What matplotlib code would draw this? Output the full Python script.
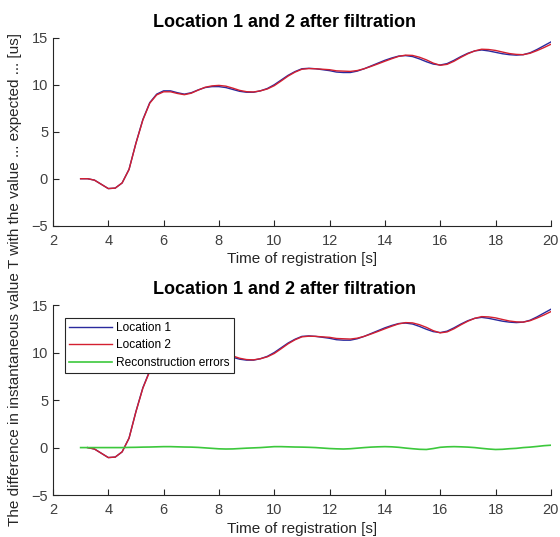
import numpy as np
import matplotlib
matplotlib.use("Agg")
import matplotlib.pyplot as plt

plt.rcParams['font.family'] = ['Liberation Sans', 'DejaVu Sans']

# time of registration [s], sampled every 0.25 s
t = np.arange(3.0, 20.001, 0.25)

loc1 = [0.0, 0.0, -0.15, -0.6, -1.05, -1.0, -0.45, 1.0, 3.8, 6.3, 8.1, 9.0,
        9.35, 9.35, 9.15, 9.0, 9.15, 9.45, 9.7, 9.8, 9.8, 9.7, 9.5, 9.3,
        9.2, 9.2, 9.35, 9.6, 10.0, 10.5, 11.0, 11.4, 11.7, 11.75, 11.7, 11.6,
        11.5, 11.35, 11.3, 11.3, 11.45, 11.7, 12.0, 12.3, 12.6, 12.85, 13.05, 13.1,
        13.0, 12.75, 12.45, 12.2, 12.1, 12.25, 12.6, 13.0, 13.35, 13.6, 13.7, 13.6,
        13.45, 13.3, 13.2, 13.15, 13.2, 13.4, 13.75, 14.15, 14.55]

# reconstruction errors (location 1 - location 2)
err = [0.0, 0.0, 0.0, 0.0, 0.0, 0.0, 0.0, 0.02, 0.03, 0.05, 0.06, 0.08,
       0.1, 0.1, 0.08, 0.06, 0.05, 0.02, -0.03, -0.08, -0.13, -0.15, -0.14, -0.1,
       -0.06, -0.03, 0.0, 0.05, 0.1, 0.1, 0.08, 0.06, 0.05, 0.03, 0.0, -0.05,
       -0.1, -0.13, -0.15, -0.12, -0.06, 0.0, 0.05, 0.08, 0.1, 0.08, 0.03, -0.05,
       -0.12, -0.18, -0.2, -0.1, 0.03, 0.08, 0.1, 0.08, 0.05, 0.0, -0.08, -0.15,
       -0.2, -0.18, -0.12, -0.08, 0.0, 0.05, 0.12, 0.2, 0.25]

loc1 = np.array(loc1)
err = np.array(err)
loc2 = loc1 - err

blue = '#2a2a9e'
red = '#d42030'
green = '#3cc83c'

fig = plt.figure(figsize=(5.6, 5.37), dpi=100)
ax1 = fig.add_axes([0.0946, 0.5797, 0.889, 0.350])
ax2 = fig.add_axes([0.0946, 0.078, 0.889, 0.354])

ax1.plot(t, loc1, color=blue, lw=1)
ax1.plot(t, loc2, color=red, lw=1)

ax2.plot(t[1:], loc1[1:], color=blue, lw=1, label='Location 1')
ax2.plot(t[1:], loc2[1:], color=red, lw=1, label='Location 2')
ax2.plot(t, err, color=green, lw=1.2, label='Reconstruction errors')

for ax in (ax1, ax2):
    ax.set_xlim(2, 20)
    ax.set_ylim(-5, 15)
    ax.set_xticks(range(2, 21, 2))
    ax.set_yticks([-5, 0, 5, 10, 15])
    ax.spines['top'].set_visible(False)
    ax.spines['right'].set_visible(False)
    for s in ('left', 'bottom'):
        ax.spines[s].set_color('#262626')
        ax.spines[s].set_linewidth(0.8)
    ax.tick_params(direction='in', labelsize=10.5, colors='#262626',
                   labelcolor='#404040', length=4, width=0.8)
    ax.tick_params(axis='x', pad=6)
    ax.set_xlabel('Time of registration [s]', fontsize=11, labelpad=3, color='#262626')
    ax.set_title('Location 1 and 2 after filtration', fontsize=13, fontweight='bold',
                 pad=8, x=0.466)

leg = ax2.legend(loc='upper left', bbox_to_anchor=(0.024, 0.932), borderaxespad=0,
                 fontsize=8.6, frameon=True, fancybox=False, edgecolor='#262626',
                 handlelength=3.6, handletextpad=0.35, borderpad=0.35,
                 labelspacing=0.45, framealpha=1)
leg.get_frame().set_linewidth(0.8)

fig.text(0.027, 0.479, 'The difference in instantaneous value T with the value ... expected ... [us]',
         rotation=90, va='center', ha='center', fontsize=11, color='#262626')

fig.savefig('out.png', dpi=100)
